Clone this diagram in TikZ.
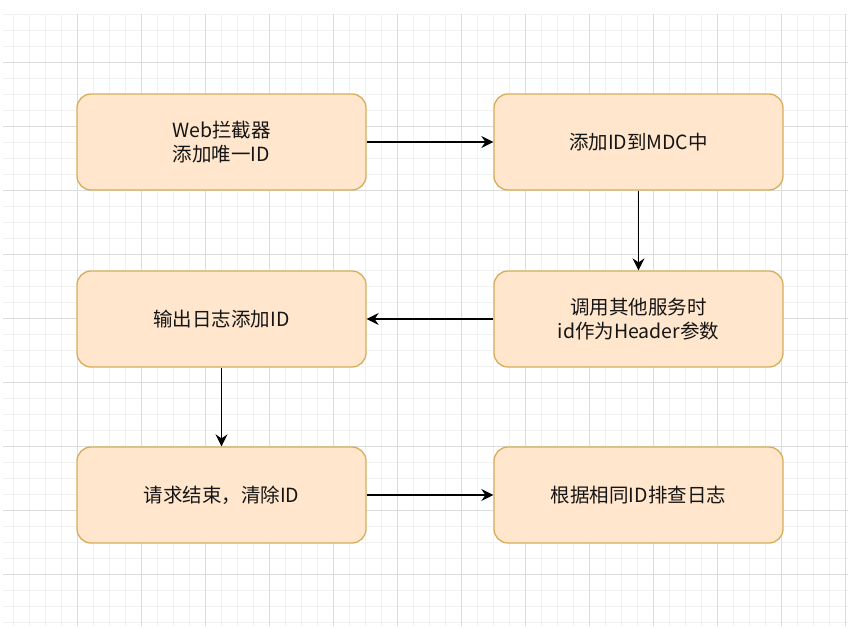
\documentclass[tikz,border=0pt]{standalone}
\usepackage{fontspec}
\setmainfont{Noto Sans CJK SC}
\usetikzlibrary{arrows.meta}
\definecolor{boxfill}{HTML}{FFE6CC}
\definecolor{boxline}{HTML}{D6AE5A}
\definecolor{minorgrid}{HTML}{F1F1F1}
\definecolor{majorgrid}{HTML}{DCDCDC}
\definecolor{txt}{HTML}{151515}
\tikzset{
  stepbox/.style={draw=boxline, fill=boxfill, line width=1.3pt, rounded corners=14pt,
    minimum width=289pt, minimum height=96pt, inner sep=0pt, align=center,
    text=txt, font=\fontsize{19.5}{23.5}\selectfont},
  conn/.style={line width=1.4pt, draw=black, -{Stealth[length=12pt,width=12pt,inset=4pt]}},
  minorline/.style={draw=minorgrid, line width=0.9pt},
  majorline/.style={draw=majorgrid, line width=0.9pt}
}
\begin{document}
\begin{tikzpicture}[x=1pt,y=-1pt]
\useasboundingbox (0,0) rectangle (858,626);
\fill[white] (0,0) rectangle (858,626);
% grid
\foreach \x in {13,29,...,845} \draw[minorline] (\x,14) -- (\x,626);
\foreach \y in {14,30,...,622} \draw[minorline] (3,\y) -- (848,\y);
\foreach \x in {77,141,...,845} \draw[majorline] (\x,14) -- (\x,626);
\foreach \y in {62,126,...,574} \draw[majorline] (3,\y) -- (848,\y);
% nodes
\node[stepbox] (n1) at (221.5,142) {Web拦截器\\添加唯一ID};
\node[stepbox] (n2) at (638.5,142) {添加ID到MDC中};
\node[stepbox] (n3) at (638.5,319) {调用其他服务时\\id作为Header参数};
\node[stepbox] (n4) at (221.5,319) {输出日志添加ID};
\node[stepbox] (n5) at (221.5,495) {请求结束，清除ID};
\node[stepbox] (n6) at (638.5,495) {根据相同ID排查日志};
% connectors
\draw[conn] (n1) -- (n2);
\draw[conn] (n2) -- (n3);
\draw[conn] (n3) -- (n4);
\draw[conn] (n4) -- (n5);
\draw[conn] (n5) -- (n6);
\end{tikzpicture}
\end{document}
